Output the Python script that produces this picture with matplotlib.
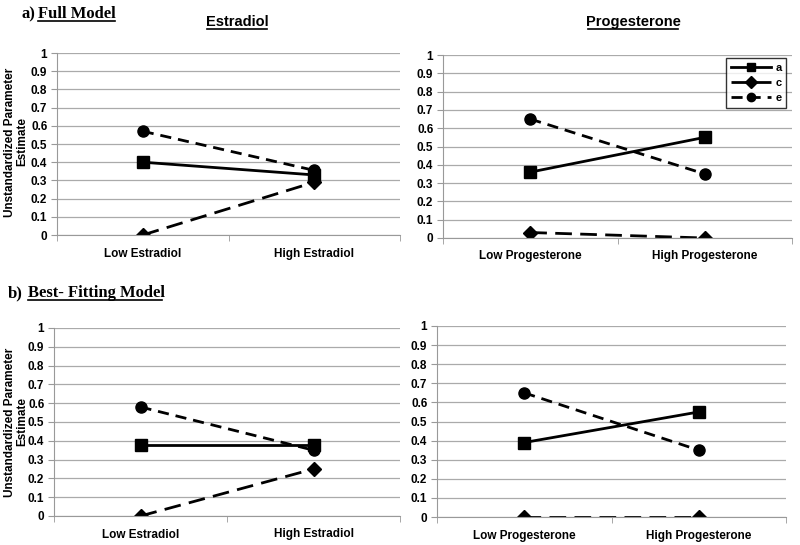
import matplotlib
matplotlib.use("Agg")
import matplotlib.pyplot as plt

categories_e = ["Low Estradiol", "High Estradiol"]
categories_p = ["Low Progesterone", "High Progesterone"]
series_names = ["a", "c", "e"]

full_estradiol = {"a": [0.40, 0.33], "c": [0.00, 0.29], "e": [0.57, 0.355]}
full_progesterone = {"a": [0.36, 0.55], "c": [0.03, 0.00], "e": [0.65, 0.35]}
best_estradiol = {"a": [0.38, 0.38], "c": [0.00, 0.25], "e": [0.58, 0.35]}
best_progesterone = {"a": [0.39, 0.55], "c": [0.00, 0.00], "e": [0.65, 0.35]}

yticks = [0, 0.1, 0.2, 0.3, 0.4, 0.5, 0.6, 0.7, 0.8, 0.9, 1]
ytick_labels = ["0", "0.1", "0.2", "0.3", "0.4", "0.5", "0.6", "0.7", "0.8", "0.9", "1"]
ylabel_text = "Unstandardized Parameter\nEstimate"

styles = {
    "a": dict(linestyle="-", marker="s", markersize=8),
    "c": dict(linestyle=(0, (6, 3)), marker="D", markersize=7),
    "e": dict(linestyle=(0, (4, 2.5)), marker="o", markersize=8),
}

SANS = "Liberation Sans"
SERIF = "Liberation Serif"

fig = plt.figure(figsize=(8, 5.45), dpi=100)
W, H = 800, 545

def make_ax(left, right, top, bottom):
    return fig.add_axes([left / W, 1 - bottom / H, (right - left) / W, (bottom - top) / H])

def draw(ax, data, cats, legend=False):
    xs = [0, 1]
    for s in series_names:
        ax.plot(xs, data[s], color="black", linewidth=2, label=s, **styles[s])
    ax.set_xlim(-0.5, 1.5)
    ax.set_ylim(0, 1)
    ax.set_yticks(yticks)
    ax.set_yticklabels(ytick_labels, fontfamily=SANS, fontweight="bold", fontsize=8.5)
    ax.set_xticks(xs)
    ax.set_xticklabels(cats, fontfamily=SANS, fontweight="bold", fontsize=8.5)
    ax.set_xticks([-0.5, 0.5, 1.5], minor=True)
    ax.tick_params(axis="x", which="major", length=0, pad=9)
    ax.tick_params(axis="x", which="minor", length=4, color="#999999", direction="out")
    ax.tick_params(axis="y", length=4, color="#999999", direction="out", pad=3)
    ax.grid(axis="y", color="#aaaaaa", linewidth=0.9)
    ax.set_axisbelow(True)
    for sp in ["top", "right"]:
        ax.spines[sp].set_visible(False)
    ax.spines["left"].set_color("#999999")
    ax.spines["bottom"].set_color("#999999")
    if legend:
        leg = ax.legend(loc="upper right", bbox_to_anchor=(1.0, 1.015), frameon=True,
                        fancybox=False, edgecolor="black", handlelength=3.6,
                        prop={"family": SANS, "weight": "bold", "size": 8},
                        labelspacing=0.45, borderpad=0.45, handletextpad=0.4)
        leg.get_frame().set_linewidth(1.0)
        for line in leg.get_lines():
            line.set_markersize(6)

ax1 = make_ax(57, 400, 53, 235)
draw(ax1, full_estradiol, categories_e)
ax2 = make_ax(443, 792, 55, 238)
draw(ax2, full_progesterone, categories_p, legend=True)
ax3 = make_ax(54, 400, 328, 516)
draw(ax3, best_estradiol, categories_e)
ax4 = make_ax(437, 786, 326, 517)
draw(ax4, best_progesterone, categories_p)

for yc in (142, 422):
    fig.text(16 / W, 1 - yc / H, ylabel_text, fontfamily=SANS, fontweight="bold", fontsize=8.5,
             rotation=90, ha="center", va="center", multialignment="center", linespacing=1.0)

fig.text(21 / W, 1 - 14 / H, "a)", fontfamily=SERIF, fontweight="bold", fontsize=12, va="center")
fig.text(38 / W, 1 - 14 / H, "Full Model", fontfamily=SERIF, fontweight="bold", fontsize=12,
         va="center")
fig.text(8 / W, 1 - 293 / H, "b)", fontfamily=SERIF, fontweight="bold", fontsize=12, va="center")
fig.text(28 / W, 1 - 293 / H, "Best- Fitting Model", fontfamily=SERIF, fontweight="bold",
         fontsize=12, va="center")
fig.text(237 / W, 1 - 22 / H, "Estradiol", fontfamily=SANS, fontweight="bold", fontsize=10.5,
         ha="center", va="center")
fig.text(633 / W, 1 - 22 / H, "Progesterone", fontfamily=SANS, fontweight="bold", fontsize=10.5,
         ha="center", va="center")

def underline(x0, x1, y):
    fig.add_artist(plt.Line2D([x0 / W, x1 / W], [1 - y / H, 1 - y / H], color="black",
                              linewidth=1.2))

underline(38, 115, 21)
underline(28, 162, 300)
underline(207, 267, 29)
underline(588, 678, 29)

fig.savefig("out.png", dpi=100)
